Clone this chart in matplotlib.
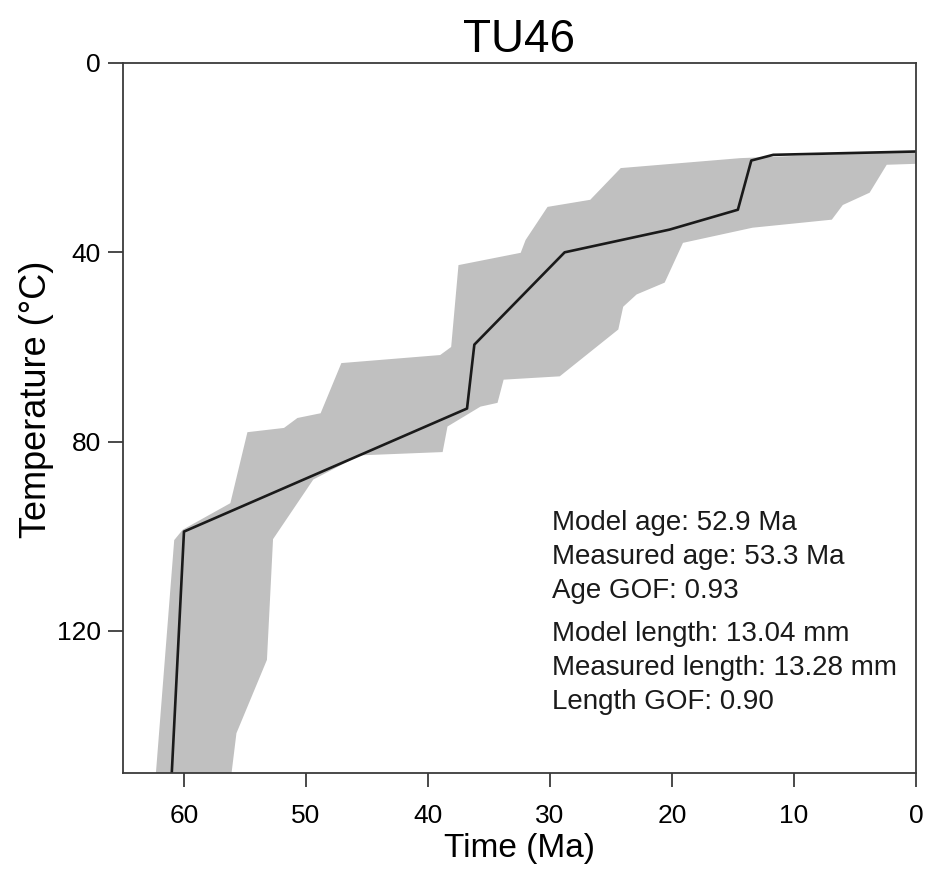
import matplotlib as mpl
mpl.use('Agg')
import matplotlib.pyplot as plt

plt.rcParams['font.family'] = ['Liberation Sans', 'DejaVu Sans']

# best-fit path (time Ma, temperature C)
path_t = [61.0, 60.0, 36.8, 36.2, 28.8, 20.2, 14.6, 13.5, 11.7, 0.0]
path_T = [150, 99.0, 73.0, 59.5, 40.0, 35.2, 31.0, 20.6, 19.4, 18.7]

# envelope, cool side (old -> young)
env_top_t = [62.3, 60.8, 60.1, 56.2, 54.8, 51.8, 50.7, 48.8, 47.1, 39.0, 38.1, 37.5,
             32.4, 32.0, 30.2, 26.7, 24.2, 14.4, 0.0]
env_top_T = [150, 100.8, 98.6, 93.0, 78.0, 77.1, 75.0, 74.0, 63.4, 61.7, 60.0, 42.7,
             40.1, 37.4, 30.4, 28.9, 22.2, 20.1, 18.6]

# envelope, hot side (young -> old)
env_bot_t = [0.0, 2.4, 3.8, 6.0, 6.9, 13.4, 19.1, 20.6, 22.9, 24.0, 24.4, 29.2, 33.8,
             34.3, 35.7, 38.4, 38.8, 45.6, 49.4, 52.7, 53.2, 55.7, 56.1]
env_bot_T = [21.3, 21.5, 27.4, 30.0, 33.1, 34.8, 38.0, 46.4, 48.9, 51.5, 56.3, 66.2, 66.9,
             71.8, 72.6, 76.8, 82.2, 82.9, 88.0, 100.6, 126.1, 141.6, 150]

stats_1 = ["Model age: 52.9 Ma", "Measured age: 53.3 Ma", "Age GOF: 0.93"]
stats_2 = ["Model length: 13.04 mm", "Measured length: 13.28 mm", "Length GOF: 0.90"]

fig = plt.figure(figsize=(9.26, 8.75), dpi=100)
ax = fig.add_axes([0.1328, 0.1166, 0.8564, 0.8114])

ax.fill(env_top_t + env_bot_t, env_top_T + env_bot_T, color='#c0c0c0', lw=0, zorder=1)
ax.plot(path_t, path_T, color='#1a1a1a', lw=1.9, zorder=2)

ax.set_xlim(65, 0)
ax.set_ylim(150, 0)
ax.set_xticks([60, 50, 40, 30, 20, 10, 0])
ax.set_yticks([0, 40, 80, 120])

for s in ax.spines.values():
    s.set_color('#3a3a3a')
    s.set_linewidth(1.3)

ax.tick_params(axis='x', direction='out', length=10, width=1.3, color='#3a3a3a',
               labelsize=19, pad=12)
ax.tick_params(axis='y', direction='out', length=11, width=1.3, color='#3a3a3a',
               labelsize=19, pad=5)

ax.set_title("TU46", fontsize=33, pad=8)
ax.set_xlabel("Time (Ma)", fontsize=24, labelpad=4)
ax.set_ylabel("Temperature (°C)", fontsize=26)
ax.yaxis.set_label_coords(-0.087, 0.527)

y0 = 0.352
step = 0.0479
for i, s in enumerate(stats_1):
    ax.text(0.541, y0 - i * step, s, transform=ax.transAxes, fontsize=20,
            va='center', ha='left', color='#1a1a1a')
y1 = y0 - 2 * step - 0.0606
for i, s in enumerate(stats_2):
    ax.text(0.541, y1 - i * step, s, transform=ax.transAxes, fontsize=20,
            va='center', ha='left', color='#1a1a1a')

plt.savefig('out.png', dpi=100)
